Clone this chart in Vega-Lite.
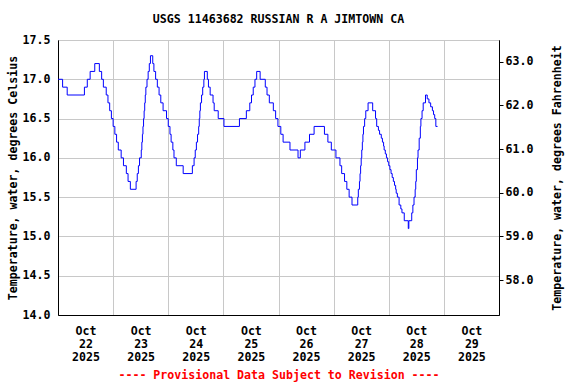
{
  "$schema": "https://vega.github.io/schema/vega-lite/v6.json",
  "width": 441,
  "height": 275,
  "autosize": {"type": "none"},
  "padding": {"left": 58, "top": 40, "right": 77, "bottom": 69},
  "background": "white",
  "config": {
    "view": {"stroke": "black", "strokeWidth": 1},
    "font": "DejaVu Sans Mono",
    "axis": {
      "labelFont": "DejaVu Sans Mono",
      "titleFont": "DejaVu Sans Mono",
      "labelFontSize": 11.6,
      "titleFontSize": 11.6,
      "labelFontWeight": "bold",
      "titleFontWeight": "bold",
      "labelColor": "black",
      "titleColor": "black",
      "domainColor": "black",
      "tickColor": "black",
      "gridColor": "#c8c8c8",
      "gridOpacity": 1,
      "gridWidth": 1
    }
  },
  "title": {
    "text": "USGS 11463682 RUSSIAN R A JIMTOWN CA",
    "font": "DejaVu Sans Mono",
    "fontSize": 11.6,
    "fontWeight": "bold",
    "color": "black",
    "anchor": "middle",
    "frame": "group",
    "offset": 8
  },
  "data": {
    "values": [
      {"t": "2025-10-22T00:00Z", "c": 17.0},
      {"t": "2025-10-22T02:00Z", "c": 16.9},
      {"t": "2025-10-22T04:00Z", "c": 16.8},
      {"t": "2025-10-22T11:30Z", "c": 16.9},
      {"t": "2025-10-22T12:45Z", "c": 17.0},
      {"t": "2025-10-22T14:00Z", "c": 17.1},
      {"t": "2025-10-22T16:00Z", "c": 17.2},
      {"t": "2025-10-22T18:00Z", "c": 17.1},
      {"t": "2025-10-22T19:00Z", "c": 17.0},
      {"t": "2025-10-22T19:45Z", "c": 16.9},
      {"t": "2025-10-22T21:00Z", "c": 16.8},
      {"t": "2025-10-22T21:45Z", "c": 16.7},
      {"t": "2025-10-22T22:30Z", "c": 16.6},
      {"t": "2025-10-22T23:15Z", "c": 16.5},
      {"t": "2025-10-23T00:00Z", "c": 16.4},
      {"t": "2025-10-23T00:45Z", "c": 16.3},
      {"t": "2025-10-23T01:30Z", "c": 16.2},
      {"t": "2025-10-23T02:15Z", "c": 16.1},
      {"t": "2025-10-23T03:30Z", "c": 16.0},
      {"t": "2025-10-23T04:30Z", "c": 15.9},
      {"t": "2025-10-23T05:45Z", "c": 15.8},
      {"t": "2025-10-23T06:30Z", "c": 15.7},
      {"t": "2025-10-23T07:30Z", "c": 15.6},
      {"t": "2025-10-23T10:00Z", "c": 15.7},
      {"t": "2025-10-23T10:30Z", "c": 15.8},
      {"t": "2025-10-23T11:00Z", "c": 15.9},
      {"t": "2025-10-23T11:30Z", "c": 16.0},
      {"t": "2025-10-23T12:15Z", "c": 16.1},
      {"t": "2025-10-23T12:30Z", "c": 16.2},
      {"t": "2025-10-23T12:45Z", "c": 16.3},
      {"t": "2025-10-23T13:00Z", "c": 16.4},
      {"t": "2025-10-23T13:15Z", "c": 16.5},
      {"t": "2025-10-23T13:30Z", "c": 16.6},
      {"t": "2025-10-23T13:45Z", "c": 16.7},
      {"t": "2025-10-23T14:00Z", "c": 16.8},
      {"t": "2025-10-23T14:15Z", "c": 16.9},
      {"t": "2025-10-23T14:45Z", "c": 17.0},
      {"t": "2025-10-23T15:15Z", "c": 17.1},
      {"t": "2025-10-23T15:45Z", "c": 17.2},
      {"t": "2025-10-23T16:15Z", "c": 17.3},
      {"t": "2025-10-23T17:15Z", "c": 17.2},
      {"t": "2025-10-23T17:45Z", "c": 17.1},
      {"t": "2025-10-23T18:30Z", "c": 17.0},
      {"t": "2025-10-23T19:15Z", "c": 16.9},
      {"t": "2025-10-23T20:00Z", "c": 16.8},
      {"t": "2025-10-23T20:45Z", "c": 16.7},
      {"t": "2025-10-23T21:45Z", "c": 16.6},
      {"t": "2025-10-23T23:15Z", "c": 16.5},
      {"t": "2025-10-24T00:00Z", "c": 16.4},
      {"t": "2025-10-24T00:45Z", "c": 16.3},
      {"t": "2025-10-24T01:15Z", "c": 16.2},
      {"t": "2025-10-24T02:00Z", "c": 16.1},
      {"t": "2025-10-24T02:30Z", "c": 16.0},
      {"t": "2025-10-24T03:30Z", "c": 15.9},
      {"t": "2025-10-24T06:30Z", "c": 15.8},
      {"t": "2025-10-24T10:30Z", "c": 15.9},
      {"t": "2025-10-24T11:15Z", "c": 16.0},
      {"t": "2025-10-24T11:45Z", "c": 16.1},
      {"t": "2025-10-24T12:15Z", "c": 16.2},
      {"t": "2025-10-24T12:45Z", "c": 16.3},
      {"t": "2025-10-24T13:15Z", "c": 16.4},
      {"t": "2025-10-24T13:30Z", "c": 16.5},
      {"t": "2025-10-24T13:45Z", "c": 16.6},
      {"t": "2025-10-24T14:00Z", "c": 16.7},
      {"t": "2025-10-24T14:30Z", "c": 16.8},
      {"t": "2025-10-24T15:00Z", "c": 16.9},
      {"t": "2025-10-24T15:30Z", "c": 17.0},
      {"t": "2025-10-24T15:45Z", "c": 17.1},
      {"t": "2025-10-24T17:00Z", "c": 17.0},
      {"t": "2025-10-24T17:30Z", "c": 16.9},
      {"t": "2025-10-24T18:15Z", "c": 16.8},
      {"t": "2025-10-24T19:30Z", "c": 16.7},
      {"t": "2025-10-24T20:00Z", "c": 16.6},
      {"t": "2025-10-24T21:45Z", "c": 16.5},
      {"t": "2025-10-25T00:15Z", "c": 16.4},
      {"t": "2025-10-25T07:00Z", "c": 16.5},
      {"t": "2025-10-25T10:00Z", "c": 16.6},
      {"t": "2025-10-25T11:30Z", "c": 16.7},
      {"t": "2025-10-25T12:15Z", "c": 16.8},
      {"t": "2025-10-25T13:00Z", "c": 16.9},
      {"t": "2025-10-25T13:45Z", "c": 17.0},
      {"t": "2025-10-25T14:30Z", "c": 17.1},
      {"t": "2025-10-25T16:00Z", "c": 17.0},
      {"t": "2025-10-25T18:15Z", "c": 16.9},
      {"t": "2025-10-25T19:00Z", "c": 16.8},
      {"t": "2025-10-25T20:00Z", "c": 16.7},
      {"t": "2025-10-25T21:45Z", "c": 16.6},
      {"t": "2025-10-25T22:45Z", "c": 16.5},
      {"t": "2025-10-25T23:45Z", "c": 16.4},
      {"t": "2025-10-26T01:00Z", "c": 16.3},
      {"t": "2025-10-26T02:00Z", "c": 16.2},
      {"t": "2025-10-26T05:00Z", "c": 16.1},
      {"t": "2025-10-26T08:30Z", "c": 16.0},
      {"t": "2025-10-26T09:30Z", "c": 16.1},
      {"t": "2025-10-26T11:30Z", "c": 16.2},
      {"t": "2025-10-26T13:30Z", "c": 16.3},
      {"t": "2025-10-26T15:30Z", "c": 16.4},
      {"t": "2025-10-26T20:00Z", "c": 16.3},
      {"t": "2025-10-26T21:30Z", "c": 16.2},
      {"t": "2025-10-26T23:00Z", "c": 16.1},
      {"t": "2025-10-27T01:00Z", "c": 16.0},
      {"t": "2025-10-27T02:45Z", "c": 15.9},
      {"t": "2025-10-27T03:30Z", "c": 15.8},
      {"t": "2025-10-27T04:45Z", "c": 15.7},
      {"t": "2025-10-27T05:45Z", "c": 15.6},
      {"t": "2025-10-27T06:45Z", "c": 15.5},
      {"t": "2025-10-27T08:00Z", "c": 15.4},
      {"t": "2025-10-27T10:30Z", "c": 15.5},
      {"t": "2025-10-27T10:45Z", "c": 15.6},
      {"t": "2025-10-27T11:15Z", "c": 15.7},
      {"t": "2025-10-27T11:30Z", "c": 15.8},
      {"t": "2025-10-27T11:45Z", "c": 15.9},
      {"t": "2025-10-27T12:00Z", "c": 16.0},
      {"t": "2025-10-27T12:15Z", "c": 16.1},
      {"t": "2025-10-27T12:30Z", "c": 16.2},
      {"t": "2025-10-27T12:45Z", "c": 16.3},
      {"t": "2025-10-27T13:00Z", "c": 16.4},
      {"t": "2025-10-27T13:30Z", "c": 16.5},
      {"t": "2025-10-27T14:00Z", "c": 16.6},
      {"t": "2025-10-27T15:00Z", "c": 16.7},
      {"t": "2025-10-27T17:00Z", "c": 16.6},
      {"t": "2025-10-27T18:15Z", "c": 16.5},
      {"t": "2025-10-27T18:45Z", "c": 16.4},
      {"t": "2025-10-27T19:30Z", "c": 16.35},
      {"t": "2025-10-27T20:00Z", "c": 16.3},
      {"t": "2025-10-27T20:45Z", "c": 16.25},
      {"t": "2025-10-27T21:15Z", "c": 16.2},
      {"t": "2025-10-27T21:45Z", "c": 16.15},
      {"t": "2025-10-27T22:00Z", "c": 16.1},
      {"t": "2025-10-27T22:30Z", "c": 16.05},
      {"t": "2025-10-27T23:00Z", "c": 16.0},
      {"t": "2025-10-27T23:30Z", "c": 15.95},
      {"t": "2025-10-28T00:00Z", "c": 15.9},
      {"t": "2025-10-28T00:30Z", "c": 15.85},
      {"t": "2025-10-28T01:00Z", "c": 15.8},
      {"t": "2025-10-28T01:30Z", "c": 15.75},
      {"t": "2025-10-28T02:00Z", "c": 15.7},
      {"t": "2025-10-28T02:30Z", "c": 15.65},
      {"t": "2025-10-28T03:00Z", "c": 15.6},
      {"t": "2025-10-28T03:15Z", "c": 15.55},
      {"t": "2025-10-28T03:45Z", "c": 15.5},
      {"t": "2025-10-28T04:30Z", "c": 15.4},
      {"t": "2025-10-28T05:15Z", "c": 15.35},
      {"t": "2025-10-28T05:45Z", "c": 15.3},
      {"t": "2025-10-28T06:45Z", "c": 15.2},
      {"t": "2025-10-28T08:30Z", "c": 15.1},
      {"t": "2025-10-28T08:45Z", "c": 15.2},
      {"t": "2025-10-28T10:00Z", "c": 15.3},
      {"t": "2025-10-28T10:30Z", "c": 15.4},
      {"t": "2025-10-28T11:00Z", "c": 15.5},
      {"t": "2025-10-28T11:30Z", "c": 15.6},
      {"t": "2025-10-28T11:45Z", "c": 15.7},
      {"t": "2025-10-28T12:00Z", "c": 15.85},
      {"t": "2025-10-28T12:30Z", "c": 16.0},
      {"t": "2025-10-28T12:45Z", "c": 16.1},
      {"t": "2025-10-28T13:15Z", "c": 16.25},
      {"t": "2025-10-28T13:45Z", "c": 16.4},
      {"t": "2025-10-28T14:00Z", "c": 16.5},
      {"t": "2025-10-28T14:30Z", "c": 16.6},
      {"t": "2025-10-28T15:00Z", "c": 16.7},
      {"t": "2025-10-28T16:00Z", "c": 16.8},
      {"t": "2025-10-28T16:45Z", "c": 16.75},
      {"t": "2025-10-28T17:30Z", "c": 16.7},
      {"t": "2025-10-28T18:15Z", "c": 16.65},
      {"t": "2025-10-28T19:00Z", "c": 16.6},
      {"t": "2025-10-28T19:30Z", "c": 16.55},
      {"t": "2025-10-28T20:00Z", "c": 16.5},
      {"t": "2025-10-28T20:30Z", "c": 16.4},
      {"t": "2025-10-28T21:15Z", "c": 16.4}
    ]
  },
  "encoding": {
    "x": {
      "field": "t",
      "type": "temporal",
      "scale": {
        "type": "utc",
        "domain": [
          {"year": 2025, "month": 10, "date": 22, "utc": true},
          {"year": 2025, "month": 10, "date": 30, "utc": true}
        ]
      },
      "axis": {
        "title": "---- Provisional Data Subject to Revision ----",
        "titleColor": "#ff0000",
        "titlePadding": 7,
        "values": [
          {"year": 2025, "month": 10, "date": 22, "utc": true},
          {"year": 2025, "month": 10, "date": 23, "utc": true},
          {"year": 2025, "month": 10, "date": 24, "utc": true},
          {"year": 2025, "month": 10, "date": 25, "utc": true},
          {"year": 2025, "month": 10, "date": 26, "utc": true},
          {"year": 2025, "month": 10, "date": 27, "utc": true},
          {"year": 2025, "month": 10, "date": 28, "utc": true},
          {"year": 2025, "month": 10, "date": 29, "utc": true}
        ],
        "labelExpr": "[utcFormat(datum.value, '%b'), utcFormat(datum.value, '%d'), utcFormat(datum.value, '%Y')]",
        "labelOffset": 27.5,
        "labelAlign": "center",
        "labelLineHeight": 13,
        "labelPadding": 10,
        "labelOverlap": false,
        "labelFlush": false,
        "labelBound": false,
        "ticks": false,
        "grid": true
      }
    }
  },
  "layer": [
    {
      "mark": {"type": "line", "interpolate": "step-after", "color": "#0000ff", "strokeWidth": 1},
      "encoding": {
        "y": {
          "field": "c",
          "type": "quantitative",
          "scale": {"domain": [14, 17.5], "nice": false, "zero": false},
          "axis": {
            "title": "Temperature, water, degrees Celsius",
            "values": [14, 14.5, 15, 15.5, 16, 16.5, 17, 17.5],
            "format": ".1f",
            "grid": true,
            "ticks": false,
            "labelPadding": 8,
            "titlePadding": 4
          }
        }
      }
    },
    {
      "mark": {"type": "line", "interpolate": "step-after", "strokeOpacity": 0},
      "encoding": {
        "y": {
          "field": "c",
          "type": "quantitative",
          "scale": {"domain": [14, 17.5], "nice": false, "zero": false},
          "axis": {
            "orient": "right",
            "title": "Temperature, water, degrees Fahrenheit",
            "values": [14.4444444, 15, 15.5555556, 16.1111111, 16.6666667, 17.2222222],
            "labelExpr": "format(datum.value * 1.8 + 32, '.1f')",
            "grid": false,
            "ticks": true,
            "tickSize": 4,
            "labelPadding": 2,
            "titleAngle": 270,
            "titleBaseline": "top",
            "titlePadding": 19
          }
        }
      }
    }
  ],
  "resolve": {"axis": {"y": "independent"}}
}
